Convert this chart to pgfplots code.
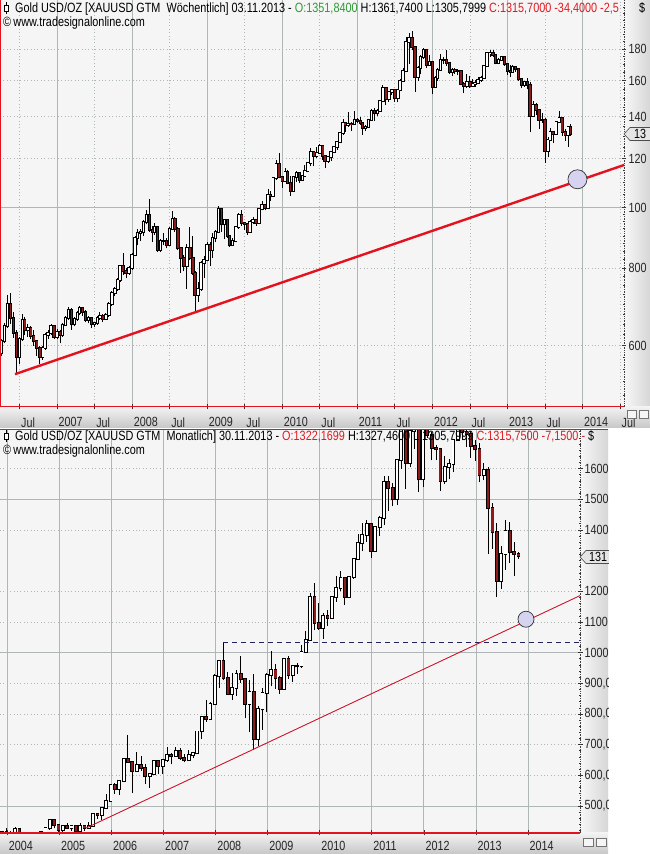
\documentclass[border=0pt]{standalone}
\usepackage{pgfplots}
\pgfplotsset{compat=1.18}
\usepackage{pgfplotstable}
\usepackage{fontspec}
\setmainfont{Liberation Sans}[FakeStretch=0.81]

\definecolor{bgc}{HTML}{F5F5F5}
\definecolor{gridc}{HTML}{AEB6B6}
\definecolor{downc}{HTML}{8E1B1B}
\definecolor{trendc}{HTML}{E3121E}
\definecolor{trendb}{HTML}{D0142A}
\definecolor{greent}{HTML}{2E9B35}
\definecolor{redt}{HTML}{E11A22}
\definecolor{navyc}{HTML}{23235A}
\definecolor{circf}{HTML}{D5D3F0}

% weekly chart (sampled every two weeks): x = date in years, o h l c in USD
\pgfplotstableread{
x o h l c
2006.26 585 615 578 610
2006.30 610 652 605 645
2006.34 645 725 640 700
2006.38 700 730 650 665
2006.42 665 680 618 630
2006.46 630 635 542 575
2006.50 575 620 560 614
2006.54 614 675 610 660
2006.57 660 668 625 635
2006.61 635 650 620 640
2006.65 640 645 615 622
2006.69 622 635 600 610
2006.73 610 612 578 595
2006.77 595 600 560 575
2006.81 575 600 570 595
2006.84 595 630 590 625
2006.88 625 635 615 628
2006.92 628 650 625 645
2006.96 645 648 615 620
2007.00 620 638 615 632
2007.04 632 635 605 625
2007.07 625 652 620 648
2007.11 648 670 645 665
2007.15 665 692 660 685
2007.19 685 690 636 650
2007.23 650 668 645 662
2007.27 662 682 658 678
2007.30 678 695 672 690
2007.34 690 693 670 680
2007.38 680 684 655 660
2007.42 660 670 652 665
2007.46 665 668 640 650
2007.50 650 656 642 652
2007.54 652 670 648 665
2007.57 665 680 660 670
2007.61 670 675 655 662
2007.65 662 678 660 672
2007.69 672 705 668 700
2007.73 700 735 695 730
2007.77 730 745 720 740
2007.81 740 770 735 765
2007.84 765 810 760 805
2007.88 805 845 780 790
2007.92 790 800 770 785
2007.96 785 805 780 800
2008.00 800 845 795 840
2008.04 840 900 835 895
2008.07 895 925 870 910
2008.11 910 925 885 915
2008.15 915 955 900 950
2008.19 950 990 940 975
2008.23 975 1032 915 920
2008.27 920 935 880 915
2008.30 915 945 905 930
2008.34 930 935 850 855
2008.38 855 890 850 885
2008.42 885 910 870 885
2008.46 885 895 860 872
2008.50 872 930 868 925
2008.54 925 988 920 960
2008.57 960 965 915 925
2008.61 925 930 855 860
2008.65 860 865 786 830
2008.69 830 840 790 805
2008.73 805 875 740 860
2008.77 860 930 825 830
2008.81 830 900 780 785
2008.84 785 790 681 725
2008.88 725 760 705 740
2008.92 740 820 735 815
2008.96 815 835 770 825
2009.00 825 880 820 870
2009.04 870 880 805 855
2009.07 855 910 830 895
2009.11 895 920 880 915
2009.15 915 1007 910 995
2009.19 995 1000 915 940
2009.23 940 960 890 955
2009.27 955 960 895 900
2009.30 900 905 865 870
2009.34 870 895 868 885
2009.38 885 935 880 930
2009.42 930 980 925 975
2009.46 975 990 935 945
2009.50 945 950 920 940
2009.54 940 945 905 915
2009.57 915 955 912 950
2009.61 950 965 940 955
2009.65 955 960 935 945
2009.69 945 1000 940 995
2009.73 995 1025 990 1010
2009.77 1010 1015 990 1000
2009.81 1000 1070 995 1050
2009.84 1050 1062 1025 1045
2009.88 1045 1120 1040 1115
2009.92 1115 1195 1110 1175
2009.96 1175 1226 1115 1120
2010.00 1120 1125 1075 1105
2010.04 1105 1160 1100 1140
2010.07 1140 1150 1090 1095
2010.11 1095 1125 1045 1065
2010.15 1065 1125 1060 1120
2010.19 1120 1145 1100 1135
2010.23 1135 1140 1095 1110
2010.27 1110 1130 1105 1125
2010.30 1125 1170 1120 1145
2010.34 1145 1185 1140 1180
2010.38 1180 1249 1165 1230
2010.42 1230 1235 1165 1210
2010.46 1210 1250 1200 1225
2010.50 1225 1265 1220 1255
2010.54 1255 1260 1195 1210
2010.57 1210 1215 1157 1190
2010.61 1190 1210 1180 1205
2010.65 1205 1230 1190 1228
2010.69 1228 1255 1225 1250
2010.73 1250 1280 1240 1275
2010.77 1275 1320 1270 1318
2010.81 1318 1388 1310 1370
2010.84 1370 1375 1325 1358
2010.88 1358 1424 1350 1365
2010.92 1365 1375 1330 1362
2010.96 1362 1432 1360 1385
2011.00 1385 1395 1370 1380
2011.04 1380 1400 1360 1370
2011.07 1370 1375 1310 1345
2011.11 1345 1360 1330 1350
2011.15 1350 1390 1345 1385
2011.19 1385 1440 1380 1430
2011.23 1430 1445 1380 1418
2011.27 1418 1440 1405 1430
2011.30 1430 1490 1425 1485
2011.34 1485 1575 1480 1555
2011.38 1555 1560 1462 1495
2011.42 1495 1540 1480 1535
2011.46 1535 1550 1520 1545
2011.50 1545 1550 1480 1500
2011.54 1500 1550 1478 1545
2011.57 1545 1610 1540 1600
2011.61 1600 1680 1595 1660
2011.65 1660 1880 1650 1850
2011.69 1850 1912 1705 1875
2011.73 1875 1921 1790 1810
2011.77 1810 1815 1535 1625
2011.81 1625 1690 1600 1680
2011.84 1680 1760 1640 1745
2011.88 1745 1803 1735 1790
2011.92 1790 1795 1680 1695
2011.96 1695 1760 1690 1715
2012.00 1715 1720 1523 1565
2012.04 1565 1630 1560 1615
2012.07 1615 1675 1600 1665
2012.11 1665 1765 1660 1725
2012.15 1725 1745 1705 1725
2012.19 1725 1791 1690 1710
2012.23 1710 1715 1640 1655
2012.27 1655 1680 1627 1665
2012.30 1665 1680 1640 1660
2012.34 1660 1670 1635 1660
2012.38 1660 1665 1575 1580
2012.42 1580 1595 1527 1570
2012.46 1570 1640 1560 1590
2012.50 1590 1628 1560 1570
2012.54 1570 1610 1565 1580
2012.57 1580 1605 1565 1585
2012.61 1585 1625 1580 1605
2012.65 1605 1630 1595 1615
2012.69 1615 1695 1610 1690
2012.73 1690 1775 1685 1770
2012.77 1770 1790 1750 1775
2012.81 1775 1795 1750 1760
2012.84 1760 1765 1700 1710
2012.88 1710 1740 1700 1730
2012.92 1730 1755 1720 1750
2012.96 1750 1755 1690 1700
2013.00 1700 1705 1635 1660
2013.04 1660 1695 1625 1655
2013.07 1655 1695 1650 1685
2013.11 1685 1690 1655 1668
2013.15 1668 1680 1600 1610
2013.19 1610 1615 1555 1575
2013.23 1575 1598 1565 1592
2013.27 1592 1615 1550 1575
2013.30 1575 1590 1321 1405
2013.34 1405 1485 1400 1465
2013.38 1465 1475 1410 1435
2013.42 1435 1440 1338 1385
2013.46 1385 1420 1370 1385
2013.50 1385 1395 1180 1235
2013.54 1235 1300 1205 1285
2013.57 1285 1345 1280 1322
2013.61 1322 1330 1270 1315
2013.65 1315 1380 1310 1375
2013.69 1375 1433 1370 1395
2013.73 1395 1400 1305 1325
2013.77 1325 1340 1280 1310
2013.81 1310 1355 1251 1350
2013.84 1350 1362 1305 1316
}\weekly

% monthly chart: year, month, o h l c in USD
\pgfplotstableread{
yr m o h l c
2003 12 398 417 397 416
2004 1 416 427 399 402
2004 2 402 419 390 396
2004 3 396 430 390 426
2004 4 426 427 381 388
2004 5 388 396 371 394
2004 6 394 398 382 395
2004 7 395 409 385 391
2004 8 391 414 387 407
2004 9 407 419 398 416
2004 10 416 430 410 428
2004 11 428 456 422 453
2004 12 453 457 427 438
2005 1 438 438 415 422
2005 2 422 438 411 435
2005 3 435 446 424 428
2005 4 428 437 420 435
2005 5 435 436 414 417
2005 6 417 443 414 435
2005 7 435 437 418 429
2005 8 429 447 429 434
2005 9 434 474 434 473
2005 10 473 478 459 470
2005 11 470 497 456 495
2005 12 495 540 490 517
2006 1 517 571 516 569
2006 2 569 575 540 556
2006 3 556 584 537 582
2006 4 582 654 582 654
2006 5 654 730 640 643
2006 6 643 646 542 614
2006 7 614 675 613 633
2006 8 633 664 613 623
2006 9 623 638 572 599
2006 10 599 609 560 604
2006 11 604 649 603 646
2006 12 646 650 605 632
2007 1 632 651 605 650
2007 2 650 691 645 665
2007 3 665 674 636 662
2007 4 662 693 660 680
2007 5 680 690 651 657
2007 6 657 671 642 650
2007 7 650 682 648 665
2007 8 665 676 655 672
2007 9 672 745 670 743
2007 10 743 795 719 789
2007 11 789 845 775 783
2007 12 783 838 783 834
2008 1 834 930 833 923
2008 2 923 975 884 972
2008 3 972 1032 910 916
2008 4 916 936 862 865
2008 5 865 935 845 886
2008 6 886 945 860 930
2008 7 930 988 902 913
2008 8 913 918 786 833
2008 9 833 912 740 871
2008 10 871 932 681 718
2008 11 718 826 697 815
2008 12 815 884 749 869
2009 1 869 934 805 927
2009 2 927 1007 890 942
2009 3 942 962 882 916
2009 4 916 925 865 883
2009 5 883 981 880 979
2009 6 979 990 914 927
2009 7 927 960 905 955
2009 8 955 966 930 955
2009 9 955 1025 950 1001
2009 10 1001 1070 1000 1040
2009 11 1040 1195 1040 1182
2009 12 1182 1226 1075 1096
2010 1 1096 1162 1075 1081
2010 2 1081 1128 1045 1118
2010 3 1118 1140 1087 1113
2010 4 1113 1180 1110 1180
2010 5 1180 1249 1166 1212
2010 6 1212 1265 1200 1244
2010 7 1244 1245 1157 1181
2010 8 1181 1250 1178 1248
2010 9 1248 1310 1240 1307
2010 10 1307 1388 1306 1357
2010 11 1357 1424 1330 1384
2010 12 1384 1432 1360 1421
2011 1 1421 1424 1308 1332
2011 2 1332 1412 1329 1410
2011 3 1410 1447 1381 1439
2011 4 1439 1576 1417 1556
2011 5 1556 1577 1462 1536
2011 6 1536 1553 1478 1500
2011 7 1500 1632 1480 1628
2011 8 1628 1913 1600 1826
2011 9 1826 1921 1535 1620
2011 10 1620 1722 1604 1722
2011 11 1722 1803 1665 1746
2011 12 1746 1764 1523 1565
2012 1 1565 1764 1540 1737
2012 2 1737 1791 1700 1710
2012 3 1710 1720 1627 1668
2012 4 1668 1678 1628 1664
2012 5 1664 1668 1527 1560
2012 6 1560 1640 1550 1604
2012 7 1604 1630 1565 1614
2012 8 1614 1693 1590 1692
2012 9 1692 1790 1690 1772
2012 10 1772 1796 1692 1719
2012 11 1719 1755 1672 1714
2012 12 1714 1723 1635 1675
2013 1 1675 1695 1625 1663
2013 2 1663 1683 1555 1578
2013 3 1578 1617 1562 1596
2013 4 1596 1606 1321 1472
2013 5 1472 1488 1338 1393
2013 6 1393 1424 1180 1234
2013 7 1234 1348 1208 1323
2013 8 1323 1434 1271 1396
2013 9 1396 1425 1292 1327
2013 10 1327 1362 1251 1323
2013 11 1322 1327 1306 1316
}\monthly

\tikzset{dotgrid/.style={gridc, line width=0.7pt, dash pattern=on 0.8pt off 2.6pt}}
\pgfplotsset{
  candleup/.style={restrict expr to domain={\thisrow{c}-\thisrow{o}}{0:100000}},
  candledown/.style={restrict expr to domain={\thisrow{c}-\thisrow{o}}{-100000:-0.0001}},
}

\begin{document}
\begin{tikzpicture}
\useasboundingbox (0,0) rectangle (650pt,854pt);
\fill[white] (0,0) rectangle (650pt,854pt);
% label strips and bands
\shade[left color=white!97!black, right color=white!84!black] (624pt,447pt) rectangle (650pt,854pt);
\shade[top color=white!95!black, bottom color=white!78!black] (0,426pt) rectangle (650pt,447pt);
\shade[left color=white!97!black, right color=white!84!black] (580pt,21pt) rectangle (608pt,424pt);
\shade[top color=white!95!black, bottom color=white!78!black] (0,0) rectangle (608pt,21pt);

% ---------------- weekly panel ----------------
\begin{axis}[
  at={(0pt,854pt)}, anchor=north west, scale only axis,
  width=624pt, height=407pt,
  xmin=2006.24, xmax=2014.553, ymin=2.6796, ymax=3.3339,
  axis background/.style={fill=bgc},
  axis line style={draw=none},
  clip mode=individual,
  xtick={2007,...,2014},
  xticklabels={2007,2008,2009,2010,2011,2012,2013,2014},
  extra x ticks={2006.5,2007.5,...,2014.5},
  extra x tick labels={Jul,Jul,Jul,Jul,Jul,Jul,Jul,Jul,Jul},
  extra x tick style={grid=major, major grid style={dotgrid}},
  ytick={3}, yticklabels={100},
  extra y ticks={2.77815,2.90309,3.07918,3.14613,3.20412,3.25527},
  extra y tick labels={600,800,120,140,160,180},
  extra y tick style={grid=major, major grid style={dotgrid}},
  minor ytick={2.69897,2.72016,2.74036,2.75967,2.79588,2.81291,2.82930,2.84510,2.86034,2.87506,2.88930,2.91645,2.92942,2.94201,2.95424,2.96614,2.97772,2.98900,3.02119,3.04139,3.06070,3.09691,3.11394,3.13033,3.16137,3.17609,3.19033,3.21748,3.23045,3.24304,3.26717,3.27875,3.29003,3.30103,3.31175,3.32222},
  xmajorgrids, ymajorgrids,
  major grid style={gridc, line width=0.9pt},
  xtick pos=left, ytick pos=right, yticklabel pos=right,
  tick align=center, major tick length=5pt, minor tick length=2.5pt,
  tick style={black!80, line width=0.7pt},
  tick label style={font=\fontsize{13.3}{15}\selectfont, text=black!85},
  xticklabel style={anchor=north west, inner sep=0pt, xshift=1.5pt, yshift=-8pt},
  yticklabel style={anchor=west, inner sep=0pt, xshift=2pt},
]
% wicks (low to high)
\addplot[black, line width=0.9pt, mark=none, quiver={u=0, v={log10(\thisrow{h})-log10(\thisrow{l})}}]
  table[x=x, y expr={log10(\thisrow{l})}] {\weekly};
% rising candles: black frame, white body
\addplot[black, line width=3.4pt, mark=none, candleup, quiver={u=0, v={abs(log10(\thisrow{c})-log10(\thisrow{o}))+0.0032}}]
  table[x=x, y expr={log10(min(\thisrow{o},\thisrow{c}))-0.0016}] {\weekly};
\addplot[white, line width=1.6pt, mark=none, candleup, quiver={u=0, v={abs(log10(\thisrow{c})-log10(\thisrow{o}))}}]
  table[x=x, y expr={log10(min(\thisrow{o},\thisrow{c}))}] {\weekly};
% falling candles: black frame, dark red body
\addplot[black, line width=3.4pt, mark=none, candledown, quiver={u=0, v={abs(log10(\thisrow{c})-log10(\thisrow{o}))+0.0032}}]
  table[x=x, y expr={log10(min(\thisrow{o},\thisrow{c}))-0.0016}] {\weekly};
\addplot[downc, line width=1.6pt, mark=none, candledown, quiver={u=0, v={abs(log10(\thisrow{c})-log10(\thisrow{o}))}}]
  table[x=x, y expr={log10(min(\thisrow{o},\thisrow{c}))}] {\weekly};
% trend line and circle
\addplot[trendc, line width=2.4pt, mark=none] table[row sep=\\, x=x, y expr={log10(\thisrow{p})}] {x p\\ 2006.44 540\\ 2014.56 1172\\};
\addplot[only marks, mark=*, mark size=9.5pt, mark options={fill=circf, draw=black!80, line width=0.7pt}] table[row sep=\\, x=x, y expr={log10(\thisrow{p})}] {x p\\ 2013.933 1111\\};
\draw[black!75, densely dotted, line width=0.7pt] (rel axis cs:1,0) -- (rel axis cs:1,1);
\end{axis}

% ---------------- monthly panel ----------------
\begin{axis}[
  at={(0pt,424pt)}, anchor=north west, scale only axis,
  width=580pt, height=403pt,
  xmin=2003.86, xmax=2014.997, ymin=412, ymax=1726,
  axis background/.style={fill=bgc},
  axis line style={draw=none},
  clip mode=individual,
  xtick={2004,...,2014},
  xticklabels={2004,2005,2006,2007,2008,2009,2010,2011,2012,2013,2014},
  ytick={500,1000,1500}, yticklabels={{500,0},1000,1500},
  extra y ticks={600,700,800,900,1100,1200,1400,1600},
  extra y tick labels={{600,0},{700,0},{800,0},{900,0},1100,1200,1400,1600},
  extra y tick style={grid=major, major grid style={dotgrid}},
  minor ytick={420,440,...,1720},
  xmajorgrids, ymajorgrids,
  major grid style={gridc, line width=0.9pt},
  xtick pos=left, ytick pos=right, yticklabel pos=right,
  tick align=center, major tick length=5pt, minor tick length=2.5pt,
  tick style={black!80, line width=0.7pt},
  tick label style={font=\fontsize{13.3}{15}\selectfont, text=black!85},
  xticklabel style={anchor=north west, inner sep=0pt, xshift=1.5pt, yshift=-6pt},
  yticklabel style={anchor=west, inner sep=0pt, xshift=2pt},
]
\addplot[black, line width=0.9pt, mark=none, quiver={u=0, v={\thisrow{h}-\thisrow{l}}}]
  table[x expr={\thisrow{yr}+(\thisrow{m}-1.2)/12}, y=l] {\monthly};
\addplot[black, line width=3.8pt, mark=none, candleup, quiver={u=0, v={abs(\thisrow{c}-\thisrow{o})+6.5}}]
  table[x expr={\thisrow{yr}+(\thisrow{m}-1.2)/12}, y expr={min(\thisrow{o},\thisrow{c})-3.3}] {\monthly};
\addplot[white, line width=2.1pt, mark=none, candleup, quiver={u=0, v={abs(\thisrow{c}-\thisrow{o})}}]
  table[x expr={\thisrow{yr}+(\thisrow{m}-1.2)/12}, y expr={min(\thisrow{o},\thisrow{c})}] {\monthly};
\addplot[black, line width=3.8pt, mark=none, candledown, quiver={u=0, v={abs(\thisrow{c}-\thisrow{o})+6.5}}]
  table[x expr={\thisrow{yr}+(\thisrow{m}-1.2)/12}, y expr={min(\thisrow{o},\thisrow{c})-3.3}] {\monthly};
\addplot[downc, line width=2.1pt, mark=none, candledown, quiver={u=0, v={abs(\thisrow{c}-\thisrow{o})}}]
  table[x expr={\thisrow{yr}+(\thisrow{m}-1.2)/12}, y expr={min(\thisrow{o},\thisrow{c})}] {\monthly};
\addplot[navyc, line width=0.9pt, dash pattern=on 5pt off 4pt, mark=none] coordinates {(2008.15,1033) (2014.997,1033)};
\addplot[trendb, line width=0.9pt, mark=none] coordinates {(2005.511,428) (2014.997,1186)};
\addplot[only marks, mark=*, mark size=8pt, mark options={fill=circf, draw=black!80, line width=0.7pt}] coordinates {(2013.96,1109)};
\draw[black!75, densely dotted, line width=0.7pt] (rel axis cs:1,0) -- (rel axis cs:1,1);
\end{axis}

% frame lines
\draw[trendc, line width=1.2pt] (0.6pt,447.5pt) -- (0.6pt,854pt);
\draw[trendc, line width=1.2pt] (0,447.5pt) -- (624pt,447.5pt);
\draw[trendc, line width=1pt] (0,424.5pt) -- (608pt,424.5pt);
\draw[trendc, line width=1.2pt] (0,21pt) -- (580pt,21pt);

% current price markers
\draw[fill=white!90!black, draw=black!70, line width=0.6pt] (624pt,720pt) -- (630pt,726.5pt) -- (652pt,726.5pt) -- (652pt,713.5pt) -- (630pt,713.5pt) -- cycle;
\node[anchor=west, inner sep=0pt, font=\fontsize{13.3}{15}\selectfont] at (634pt,720pt) {13};
\draw[fill=white!90!black, draw=black!70, line width=0.6pt] (580pt,297pt) -- (586pt,303.5pt) -- (612pt,303.5pt) -- (612pt,290.5pt) -- (586pt,290.5pt) -- cycle;
\node[anchor=west, inner sep=0pt, font=\fontsize{13.3}{15}\selectfont] at (589pt,297pt) {131};
\fill[white] (608.5pt,0) rectangle (650pt,424pt);

% scroll buttons
\draw[black!55, fill=white!96!black, line width=0.5pt] (627pt,436pt) rectangle (636pt,444pt);
\draw[black!55, fill=white!96!black, line width=0.5pt] (639pt,436pt) rectangle (648pt,444pt);
\draw[black!55, fill=white!96!black, line width=0.5pt] (583pt,8pt) rectangle (593pt,16pt);
\draw[black!55, fill=white!96!black, line width=0.5pt] (596pt,8pt) rectangle (606pt,16pt);

% titles
\draw[black, line width=0.6pt] (6pt,840pt) -- (6pt,852pt);
\draw[black, fill=white, line width=0.6pt] (4pt,843pt) rectangle (8pt,849pt);
\node[anchor=base west, inner sep=0pt, font=\fontsize{13.4}{15}\selectfont] at (15pt,841pt)
  {Gold USD/OZ [XAUUSD GTM\ \ Wöchentlich] 03.11.2013 - \textcolor{greent}{O:1351,8400} H:1361,7400 L:1305,7999 \textcolor{redt}{C:1315,7000 -34,4000 -2,5}};
\node[anchor=base west, inner sep=0pt, font=\fontsize{13.4}{15}\selectfont] at (639pt,841pt) {\$};
\node[anchor=base west, inner sep=0pt, font=\fontsize{13.4}{15}\selectfont] at (3pt,827pt) {©\,www.tradesignalonline.com};

\draw[black, line width=0.6pt] (6pt,412pt) -- (6pt,424pt);
\draw[black, fill=white, line width=0.6pt] (4pt,415pt) rectangle (8pt,421pt);
\node[anchor=base west, inner sep=0pt, font=\fontsize{13.4}{15}\selectfont] at (15pt,413pt)
  {Gold USD/OZ [XAUUSD GTM\ \ Monatlich] 30.11.2013 - \textcolor{redt}{O:1322,1699} H:1327,4600 L:1305,7999 \textcolor{redt}{C:1315,7500 -7,1500 -} \$};
\node[anchor=base west, inner sep=0pt, font=\fontsize{13.4}{15}\selectfont] at (3pt,399pt) {©\,www.tradesignalonline.com};
\end{tikzpicture}
\end{document}
